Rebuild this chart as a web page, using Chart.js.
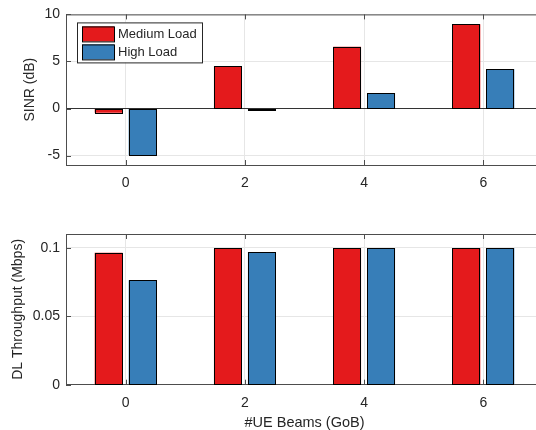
<!DOCTYPE html>
<html>
<head>
<meta charset="utf-8">
<script src="https://cdn.jsdelivr.net/npm/chart.js@4.4.1/dist/chart.umd.min.js"></script>
<style>
  html, body { margin: 0; padding: 0; background: #fff; overflow: hidden; width: 536px; height: 430px; }
  #wrap { position: relative; width: 548px; height: 440px; }
  .pane { position: absolute; left: 0; width: 548px; }
  #topPane { top: 0; height: 200px; }
  #botPane { top: 200px; height: 240px; }
</style>
</head>
<body>
<div id="wrap">
  <div class="pane" id="topPane"><canvas id="sinr"></canvas></div>
  <div class="pane" id="botPane"><canvas id="thr"></canvas></div>
</div>
<script>
// data
const beams = ['0', '2', '4', '6'];
const loadNames = ['Medium Load', 'High Load'];
const sinrMedium = [-0.45, 4.48, 6.55, 8.95];
const sinrHigh = [-4.93, -0.2, 1.66, 4.2];
const thrMedium = [0.0964, 0.0995, 0.0997, 0.0997];
const thrHigh = [0.0762, 0.0968, 0.0997, 0.0997];
const sinrTicks = [-5, 0, 5, 10];
const thrTicks = [0, 0.05, 0.1];

const RED = '#e41a1c', BLUE = '#377eb8';
const AXIS = '#4d4d4d', GRID = '#e6e6e6', TXT = '#262626';
const FONT = "'Liberation Sans', Arial, Helvetica, sans-serif";

// matlab style: top edge + inward tick marks, crisp black bar outlines
const matlabBox = {
  id: 'matlabBox',
  afterDatasetsDraw(chart) {
    const { ctx, chartArea: a, scales: { x, y } } = chart;
    ctx.save();
    ctx.strokeStyle = '#000';
    ctx.lineWidth = 1;
    chart.data.datasets.forEach((ds, di) => {
      chart.getDatasetMeta(di).data.forEach(bar => {
        const l = Math.round(bar.x - bar.width / 2), r = Math.round(bar.x + bar.width / 2);
        const t = Math.round(Math.min(bar.y, bar.base)), b = Math.round(Math.max(bar.y, bar.base));
        ctx.strokeRect(l + 0.5, t + 0.5, r - l - 1, Math.max(b - t, 1));
      });
    });
    ctx.strokeStyle = AXIS;
    ctx.beginPath();
    ctx.moveTo(a.left, a.top + 0.5);
    ctx.lineTo(a.right, a.top + 0.5);
    x.ticks.forEach((t, i) => {
      const px = Math.round(x.getPixelForTick(i)) + 0.5;
      ctx.moveTo(px, a.bottom); ctx.lineTo(px, a.bottom - 5);
      ctx.moveTo(px, a.top); ctx.lineTo(px, a.top + 5);
    });
    y.ticks.forEach(t => {
      const py = Math.round(y.getPixelForValue(t.value)) + 0.5;
      ctx.moveTo(a.left, py); ctx.lineTo(a.left + 5, py);
    });
    ctx.stroke();
    ctx.restore();
  }
};

// boxed legend in the upper left corner
const boxLegend = {
  id: 'boxLegend',
  afterDraw(chart, args, opts) {
    if (!opts.show) return;
    const { ctx, chartArea: a } = chart;
    const x0 = a.left + 11, y0 = a.top + 8, w = 125, h = 40;
    ctx.save();
    ctx.fillStyle = '#fff';
    ctx.fillRect(x0, y0, w, h);
    ctx.strokeStyle = '#262626';
    ctx.lineWidth = 1;
    ctx.strokeRect(x0 + 0.5, y0 + 0.5, w, h);
    ctx.font = '13px ' + FONT;
    ctx.textBaseline = 'middle';
    chart.data.datasets.forEach((ds, i) => {
      const ry = y0 + 4 + i * 18;
      ctx.fillStyle = ds.backgroundColor;
      ctx.fillRect(x0 + 5, ry, 32, 15);
      ctx.strokeStyle = '#000';
      ctx.strokeRect(x0 + 5.5, ry + 0.5, 32, 15);
      ctx.fillStyle = TXT;
      ctx.fillText(ds.label, x0 + 41, ry + 8);
    });
    ctx.restore();
  }
};

function barSet(label, values, color) {
  return {
    label, data: values, backgroundColor: color,
    borderWidth: 0, inflateAmount: 0,
    categoryPercentage: 0.57, barPercentage: 0.82
  };
}

function makeChart(id, medium, high, opt) {
  return new Chart(document.getElementById(id), {
    type: 'bar',
    data: {
      labels: beams,
      datasets: [barSet(loadNames[0], medium, RED), barSet(loadNames[1], high, BLUE)]
    },
    plugins: [matlabBox, boxLegend],
    options: {
      responsive: true,
      maintainAspectRatio: false,
      animation: false,
      layout: { padding: { top: opt.top, right: 5, left: 0, bottom: 0 } },
      plugins: {
        legend: { display: false },
        tooltip: { enabled: false },
        boxLegend: { show: opt.legend }
      },
      scales: {
        x: {
          type: 'category',
          offset: true,
          afterFit: s => { s.height = opt.xHeight; },
          grid: { offset: false, color: GRID, drawTicks: false },
          border: { color: AXIS },
          ticks: { padding: 10, color: TXT, font: { family: FONT, size: 14 } },
          title: {
            display: !!opt.xTitle, text: opt.xTitle || '', color: TXT,
            font: { family: FONT, size: 14.5 }, padding: { bottom: 8.5, top: 0 }
          }
        },
        y: {
          min: opt.min, max: opt.max,
          afterFit: s => { s.width = 66; },
          afterBuildTicks: s => { s.ticks = opt.ticks.map(v => ({ value: v })); },
          grid: {
            drawTicks: false,
            color: c => (opt.zeroLine && c.tick && c.tick.value === 0) ? '#333' : GRID
          },
          border: { color: AXIS },
          ticks: {
            padding: 6, color: TXT, font: { family: FONT, size: 14 },
            callback: v => String(v)
          },
          title: {
            display: true, text: opt.yTitle, color: TXT,
            font: { family: FONT, size: 14 }, padding: { top: opt.yTitlePad, bottom: 0 }
          }
        }
      }
    }
  });
}

makeChart('sinr', sinrMedium, sinrHigh, {
  top: 14, xHeight: 35, min: -6, max: 10, ticks: sinrTicks,
  yTitle: 'SINR (dB)', yTitlePad: 21.6, zeroLine: true, legend: true
});
makeChart('thr', thrMedium, thrHigh, {
  top: 34, xHeight: 55.3, min: 0, max: 0.11, ticks: thrTicks,
  yTitle: 'DL Throughput (Mbps)', yTitlePad: 10, xTitle: '#UE Beams (GoB)', legend: false
});
</script>
</body>
</html>
